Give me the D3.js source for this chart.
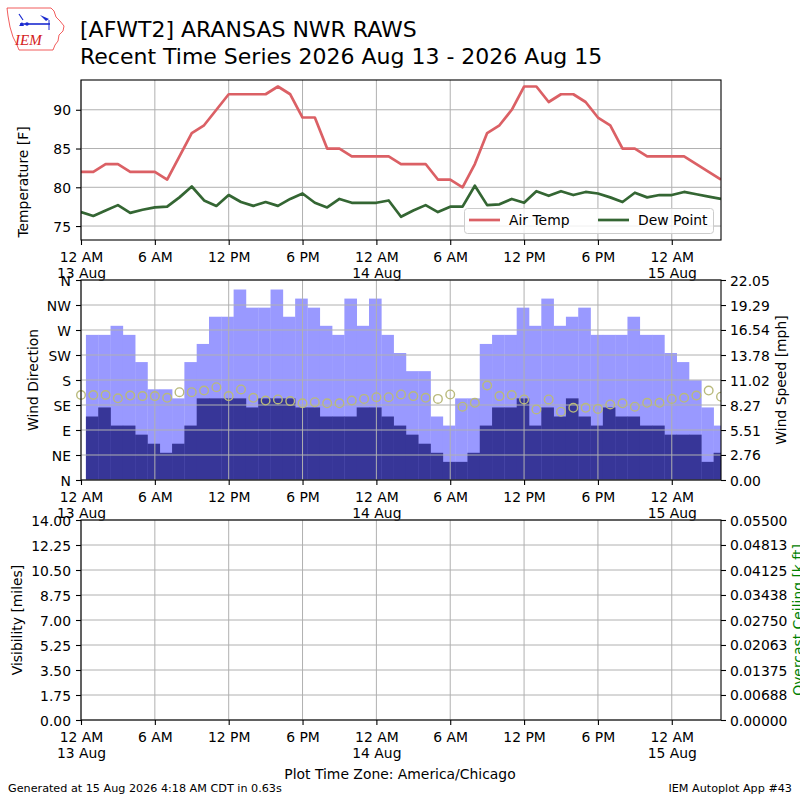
<!DOCTYPE html>
<html>
<head>
<meta charset="utf-8">
<script src="https://cdn.jsdelivr.net/npm/d3@7"></script>
<style>
  body { margin: 0; background: #fff; }
  svg { font-family: "DejaVu Sans", sans-serif; }
</style>
</head>
<body>
<div id="chart"></div>
<script>
// hours since 12 AM 13 Aug (America/Chicago)
const obsHours = [0, 1, 2, 3, 4, 5, 6, 7, 8, 9, 10, 11, 12, 13, 14, 15, 16, 17, 18, 19,
  20, 21, 22, 23, 24, 25, 26, 27, 28, 29, 30, 31, 32, 33, 34, 35, 36, 37, 38, 39,
  40, 41, 42, 43, 44, 45, 46, 47, 48, 49, 50, 51, 52];

const airTemp = [82, 82, 83, 83, 82, 82, 82, 81, 84, 87, 88, 90, 92, 92, 92, 92, 93, 92, 89, 89,
  85, 85, 84, 84, 84, 84, 83, 83, 83, 81, 81, 80, 83, 87, 88, 90, 93, 93, 91, 92,
  92, 91, 89, 88, 85, 85, 84, 84, 84, 84, 83, 82, 81];

const dewPoint = [76.8, 76.3, 77.0, 77.7, 76.7, 77.1, 77.4, 77.5, 78.7, 80.1, 78.3, 77.6, 79.0, 78.1,
  77.6, 78.1, 77.6, 78.5, 79.2, 78.0, 77.4, 78.5, 78.0, 78.0, 78.0, 78.3, 76.2, 77.0, 77.7, 76.8,
  77.5, 77.5, 80.2, 77.7, 77.8, 78.5, 78.0, 79.5, 78.9, 79.5, 79.0, 79.4, 79.2, 78.7, 78.1, 79.3,
  78.7, 79.0, 79.0, 79.4, 79.1, 78.8, 78.5];

const windDir = [153, 153, 153, 147, 152, 151, 151, 148, 158, 158, 161, 167, 151, 163, 148, 143,
  145, 142, 138, 140, 138, 138, 143, 146, 149, 149, 154, 151, 148, 146, 154, 132, 139, 170, 151,
  153, 145, 127, 145, 123, 130, 130, 128, 136, 138, 132, 139, 139, 146, 148, 152, 161, 150];

// wind bars (mph), one per hour from the first hour
const windSpeed = [7, 8, 6, 6, 5, 4, 3, 4, 6, 9, 9, 9, 9, 8, 9, 9, 9, 8, 8, 7, 7, 7, 8, 8, 7, 6,
  5, 4, 3, 2, 2, 3, 6, 8, 8, 9, 6, 8, 7, 9, 7, 6, 8, 7, 7, 6, 6, 5, 5, 5, 2, 3];
const windGust = [16, 16, 17, 16, 13, 10, 10, 9, 13, 15, 18, 18, 21, 19, 19, 21, 18, 20, 19, 17,
  16, 20, 17, 20, 16, 14, 12, 12, 7, 6, 9, 9, 15, 16, 16, 19, 17, 20, 17, 18, 19, 16, 16, 16,
  18, 16, 16, 14, 13, 11, 8, 6];
const barShift = 0.4; // bars start ~25 min after the hour

const xTickHours = [0, 6, 12, 18, 24, 30, 36, 42, 48];
const xTickLabels = [["12 AM", "13 Aug"], ["6 AM"], ["12 PM"], ["6 PM"], ["12 AM", "14 Aug"],
  ["6 AM"], ["12 PM"], ["6 PM"], ["12 AM", "15 Aug"]];

const tempTicks = [75, 80, 85, 90];
const dirTicks = [0, 45, 90, 135, 180, 225, 270, 315, 360];
const dirLabels = ["N", "NE", "E", "SE", "S", "SW", "W", "NW", "N"];
const speedTickLabels = ["0.00", "2.76", "5.51", "8.27", "11.02", "13.78", "16.54", "19.29", "22.05"];
const visTickLabels = ["0.00", "1.75", "3.50", "5.25", "7.00", "8.75", "10.50", "12.25", "14.00"];
const ceilTickLabels = ["0.00000", "0.00688", "0.01375", "0.02063", "0.02750", "0.03438",
  "0.04125", "0.04813", "0.05500"];

const W = 800, H = 800;
const L = 81, R = 721;
const FS = 13.9;

const svg = d3.select("#chart").append("svg")
  .attr("width", W).attr("height", H)
  .attr("viewBox", `0 0 ${W} ${H}`);

const x = d3.scaleLinear().domain([0, 52]).range([L, R]);

const panels = [
  { top: 80, bottom: 240 },
  { top: 280, bottom: 480 },
  { top: 520, bottom: 720 }
];

const defs = svg.append("defs");
panels.forEach((p, i) => {
  defs.append("clipPath").attr("id", "clip" + i)
    .append("rect").attr("x", L - 6).attr("y", p.top)
    .attr("width", R - L + 6).attr("height", p.bottom - p.top);
  defs.append("clipPath").attr("id", "clipb" + i)
    .append("rect").attr("x", L).attr("y", p.top)
    .attr("width", R - L).attr("height", p.bottom - p.top);
});

function grid(g, p, y, yVals) {
  g.selectAll(".vg").data(xTickHours).join("line")
    .attr("x1", d => x(d)).attr("x2", d => x(d))
    .attr("y1", p.top).attr("y2", p.bottom)
    .attr("stroke", "#b0b0b0").attr("stroke-width", 1);
  g.selectAll(".hg").data(yVals).join("line")
    .attr("x1", L).attr("x2", R)
    .attr("y1", d => y(d)).attr("y2", d => y(d))
    .attr("stroke", "#b0b0b0").attr("stroke-width", 1);
}

function styleAxis(g) {
  g.attr("font-family", null).attr("font-size", null);
  g.selectAll("text").attr("font-size", FS).attr("fill", "#000");
  g.selectAll("line").attr("stroke", "#000").attr("stroke-width", 1.1);
  g.select(".domain").remove();
}

function xAxis(p) {
  const g = svg.append("g").attr("transform", `translate(0,${p.bottom})`)
    .call(d3.axisBottom(x).tickValues(xTickHours).tickSize(5).tickSizeOuter(0).tickFormat(""));
  styleAxis(g);
  g.selectAll(".tick").each(function (d, i) {
    const t = d3.select(this).append("text")
      .attr("text-anchor", "middle").attr("font-size", FS).attr("fill", "#000");
    xTickLabels[i].forEach((s, j) => {
      t.append("tspan").attr("x", 0).attr("y", j === 0 ? 21.5 : 38).text(s);
    });
  });
}

function leftAxis(p, y, vals, labels) {
  const g = svg.append("g").attr("transform", `translate(${L},0)`)
    .call(d3.axisLeft(y).tickValues(vals).tickSize(5).tickPadding(5)
      .tickFormat((d, i) => labels[i]));
  styleAxis(g);
  g.selectAll("text").attr("dy", "0.36em");
}

function rightAxis(p, y, vals, labels) {
  const g = svg.append("g").attr("transform", `translate(${R},0)`)
    .call(d3.axisRight(y).tickValues(vals).tickSize(5).tickPadding(4)
      .tickFormat((d, i) => labels[i]));
  styleAxis(g);
  g.selectAll("text").attr("dy", "0.36em");
}

function frame(p) {
  svg.append("rect").attr("x", L).attr("y", p.top)
    .attr("width", R - L).attr("height", p.bottom - p.top)
    .attr("fill", "none").attr("stroke", "#000").attr("stroke-width", 1.1);
}

function vLabel(text, cx, cy, color) {
  svg.append("text")
    .attr("transform", `translate(${cx},${cy}) rotate(-90)`)
    .attr("text-anchor", "middle").attr("font-size", FS)
    .attr("fill", color || "#000").text(text);
}

// ---------- panel 1: temperature ----------
{
  const p = panels[0];
  const lo = d3.min(dewPoint) - 3;
  const hiData = d3.max(airTemp);
  const hi = hiData + 0.05 * (hiData - d3.min(dewPoint));
  const y = d3.scaleLinear().domain([lo, hi]).range([p.bottom, p.top]);
  const g = svg.append("g");
  grid(g, p, y, tempTicks);

  const line = d3.line().x((d, i) => x(obsHours[i])).y(d => y(d));
  const lg = svg.append("g").attr("clip-path", "url(#clipb0)");
  lg.append("path").datum(airTemp).attr("d", line)
    .attr("fill", "none").attr("stroke", "#db6065").attr("stroke-width", 2.7)
    .attr("stroke-linejoin", "round");
  lg.append("path").datum(dewPoint).attr("d", line)
    .attr("fill", "none").attr("stroke", "#346633").attr("stroke-width", 2.7)
    .attr("stroke-linejoin", "round");

  // legend
  const leg = svg.append("g");
  leg.append("rect").attr("x", 464.5).attr("y", 208.5).attr("width", 249).attr("height", 25)
    .attr("rx", 3).attr("fill", "#fff").attr("fill-opacity", 0.8)
    .attr("stroke", "#cccccc").attr("stroke-width", 1);
  [["Air Temp", "#db6065", 469], ["Dew Point", "#346633", 598]].forEach(([name, c, lx]) => {
    leg.append("line").attr("x1", lx).attr("x2", lx + 31).attr("y1", 220).attr("y2", 220)
      .attr("stroke", c).attr("stroke-width", 2.7);
    leg.append("text").attr("x", lx + 40).attr("y", 225).attr("font-size", FS).text(name);
  });

  frame(p);
  leftAxis(p, y, tempTicks, tempTicks.map(String));
  xAxis(p);
  vLabel("Temperature [F]", 27.5, 182);
}

// ---------- panel 2: wind ----------
{
  const p = panels[1];
  const yDir = d3.scaleLinear().domain([0, 360]).range([p.bottom, p.top]);
  const speedMax = d3.max(windGust) * 1.05;
  const ySpd = d3.scaleLinear().domain([0, speedMax]).range([p.bottom, p.top]);
  const speedTicks = speedTickLabels.map(Number);

  const bg = svg.append("g").attr("clip-path", "url(#clipb1)");
  const bw = x(1) - x(0);
  bg.selectAll(".gust").data(windGust).join("rect")
    .attr("x", (d, i) => x(obsHours[i] + barShift)).attr("width", bw + 0.3)
    .attr("y", d => ySpd(d)).attr("height", d => p.bottom - ySpd(d))
    .attr("fill", "#9999ff");
  bg.selectAll(".spd").data(windSpeed).join("rect")
    .attr("x", (d, i) => x(obsHours[i] + barShift)).attr("width", bw + 0.3)
    .attr("y", d => ySpd(d)).attr("height", d => p.bottom - ySpd(d))
    .attr("fill", "#373698");

  const g = svg.append("g");
  grid(g, p, yDir, dirTicks);

  svg.append("g").attr("clip-path", "url(#clip1)")
    .selectAll("circle").data(windDir).join("circle")
    .attr("cx", (d, i) => x(obsHours[i])).attr("cy", d => yDir(d))
    .attr("r", 4.3).attr("fill", "none")
    .attr("stroke", "#b9ba7c").attr("stroke-width", 1.4);

  frame(p);
  leftAxis(p, yDir, dirTicks, dirLabels);
  rightAxis(p, ySpd, speedTicks, speedTickLabels);
  xAxis(p);
  vLabel("Wind Direction", 37.5, 380);
  vLabel("Wind Speed [mph]", 786, 380);
}

// ---------- panel 3: visibility / ceiling (no data) ----------
{
  const p = panels[2];
  const visTicks = visTickLabels.map(Number);
  const ceilTicks = ceilTickLabels.map(Number);
  const yVis = d3.scaleLinear().domain([0, 14]).range([p.bottom, p.top]);
  const yCeil = d3.scaleLinear().domain([0, 0.055]).range([p.bottom, p.top]);
  const g = svg.append("g");
  grid(g, p, yVis, visTicks);
  frame(p);
  leftAxis(p, yVis, visTicks, visTickLabels);
  rightAxis(p, yCeil, ceilTicks, ceilTickLabels);
  xAxis(p);
  vLabel("Visibility [miles]", 22, 620);
  vLabel("Overcast Ceiling [k ft]", 803, 620, "#008000");
}

// ---------- titles and footer ----------
svg.append("text").attr("x", 80).attr("y", 37).attr("font-size", 22)
  .text("[AFWT2] ARANSAS NWR RAWS");
svg.append("text").attr("x", 80).attr("y", 64).attr("font-size", 22)
  .text("Recent Time Series 2026 Aug 13 - 2026 Aug 15");
svg.append("text").attr("x", 400).attr("y", 779).attr("text-anchor", "middle")
  .attr("font-size", FS).text("Plot Time Zone: America/Chicago");
svg.append("text").attr("x", 8).attr("y", 792).attr("font-size", 11.2)
  .text("Generated at 15 Aug 2026 4:18 AM CDT in 0.63s");
svg.append("text").attr("x", 792).attr("y", 792).attr("text-anchor", "end")
  .attr("font-size", 11.2).text("IEM Autoplot App #43");

// ---------- IEM logo ----------
{
  const lg = svg.append("g");
  lg.append("path")
    .attr("d", "M7,8 L51,8 L54,11 L56,17 L60,21 L64,26 L63,31 L59,35 L58,41 L55,45 L53,50 L19,50 L17,45 L13,37 L10,27 L8,16 Z")
    .attr("fill", "#fff").attr("stroke", "#e33").attr("stroke-width", 0.8);
  lg.append("line").attr("x1", 20).attr("x2", 50).attr("y1", 24).attr("y2", 24)
    .attr("stroke", "#1a2ad0").attr("stroke-width", 1.6);
  lg.append("line").attr("x1", 19).attr("x2", 23).attr("y1", 14).attr("y2", 20)
    .attr("stroke", "#1a2ad0").attr("stroke-width", 1.2);
  lg.append("path").attr("d", "M40,15 L49,19 L46,21 Z").attr("fill", "#1a2ad0");
  lg.append("line").attr("x1", 49).attr("x2", 49).attr("y1", 20).attr("y2", 30)
    .attr("stroke", "#1a2ad0").attr("stroke-width", 1);
  lg.append("circle").attr("cx", 27).attr("cy", 24).attr("r", 1.8).attr("fill", "#1a2ad0");
  lg.append("path").attr("d", "M19,26 L22,22 L24,26 Z").attr("fill", "#1a2ad0");
  lg.append("text").attr("x", 15).attr("y", 45).attr("font-family", "Liberation Serif")
    .attr("font-style", "italic").attr("font-size", 15).attr("fill", "#d42020").text("IEM");
}
</script>
</body>
</html>
